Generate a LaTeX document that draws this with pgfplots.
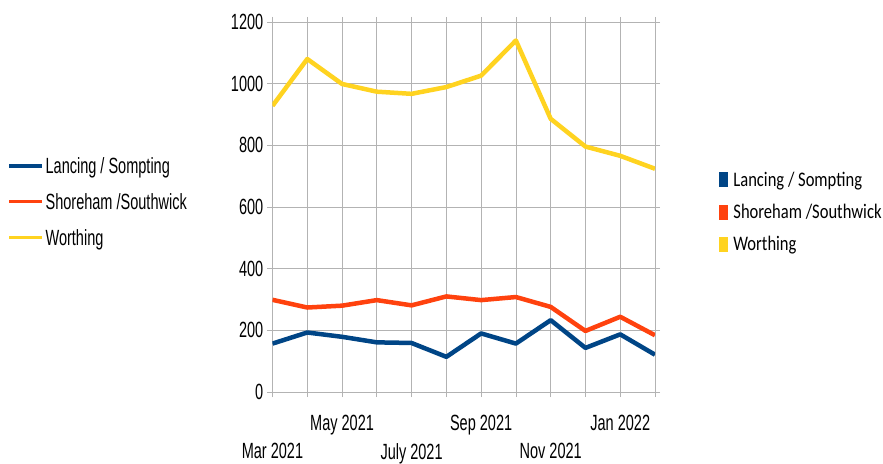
\documentclass[border=0pt]{standalone}
\usepackage{fontspec}
\setmainfont{Liberation Sans}[FakeStretch=0.66]
\newfontfamily\carlito{Carlito}[FakeStretch=0.8]
\usepackage{pgfplots}
\pgfplotsset{compat=1.18}
\definecolor{cBlue}{HTML}{004586}
\definecolor{cRed}{HTML}{FF420E}
\definecolor{cYel}{HTML}{FFD320}
\definecolor{cGrid}{HTML}{B3B3B3}
\begin{document}
\begin{tikzpicture}
\useasboundingbox (-272.5pt,-71pt) rectangle (610.5pt,392pt);
\begin{axis}[
  scale only axis, width=382.5pt, height=370pt,
  xmin=0, xmax=11, ymin=0, ymax=1200,
  xtick={0,...,11},
  xticklabels={,,May 2021,,,,Sep 2021,,,,Jan 2022,},
  extra x ticks={0,4,8},
  extra x tick labels={Mar 2021,July 2021,Nov 2021},
  extra x tick style={xticklabel style={yshift=-28pt}},
  ytick={0,200,...,1200},
  grid=major, grid style={cGrid, line width=0.8pt},
  axis line style={cGrid, line width=0.8pt},
  tick style={cGrid, line width=0.8pt},
  tick align=outside, major tick length=5pt,
  /pgf/number format/assume math mode=true,
  /pgf/number format/1000 sep={},
  tick label style={font=\fontsize{22}{26}\selectfont, inner sep=0pt},
  xticklabel style={anchor=north, yshift=-18pt},
  yticklabel style={anchor=east, xshift=-4pt},
  legend style={at={(axis description cs:-0.692,0.514)}, anchor=west,
    draw=none, fill=none, inner sep=0pt, outer sep=0pt,
    font=\fontsize{22}{26}\selectfont,
    nodes={text height=15.75pt, text depth=0pt, inner sep=0pt},
    cells={anchor=west}, row sep=20pt,
    /tikz/every odd column/.append style={column sep=1.5pt}},
  legend image code/.code={\draw[#1, line width=3.3pt] (0pt,0pt) -- (33pt,0pt);},
]
\addplot[cBlue, line width=4.5pt, line join=round] coordinates {
(0,157) (1,193) (2,179) (3,161) (4,159) (5,114) (6,190) (7,157) (8,233) (9,143) (10,187) (11,121)};
\addlegendentry{Lancing / Sompting}
\addplot[cRed, line width=4.5pt, line join=round] coordinates {
(0,299) (1,274) (2,280) (3,298) (4,281) (5,310) (6,298) (7,308) (8,276) (9,198) (10,244) (11,184)};
\addlegendentry{Shoreham /Southwick}
\addplot[cYel, line width=4.5pt, line join=round] coordinates {
(0,928) (1,1080) (2,999) (3,974) (4,967) (5,989) (6,1026) (7,1140) (8,886) (9,796) (10,766) (11,724)};
\addlegendentry{Worthing}
\end{axis}
\begin{axis}[
  scale only axis, width=382.5pt, height=370pt, hide axis,
  xmin=0, xmax=11, ymin=0, ymax=1200,
  legend style={at={(axis description cs:1.1673,0.487)}, anchor=west,
    draw=none, fill=none, inner sep=0pt, outer sep=0pt,
    font=\carlito\fontsize{20.7}{24}\selectfont,
    nodes={text height=13.3pt, text depth=0pt, inner sep=0pt},
    cells={anchor=west}, row sep=18pt,
    /tikz/every odd column/.append style={column sep=6pt}},
]
\addlegendimage{legend image code/.code={\fill[cBlue] (0pt,-7pt) rectangle (8pt,7pt);}}
\addlegendentry{Lancing / Sompting}
\addlegendimage{legend image code/.code={\fill[cRed] (0pt,-7pt) rectangle (8pt,7pt);}}
\addlegendentry{Shoreham /Southwick}
\addlegendimage{legend image code/.code={\fill[cYel] (0pt,-7pt) rectangle (8pt,7pt);}}
\addlegendentry{Worthing}
\end{axis}
\end{tikzpicture}
\end{document}
